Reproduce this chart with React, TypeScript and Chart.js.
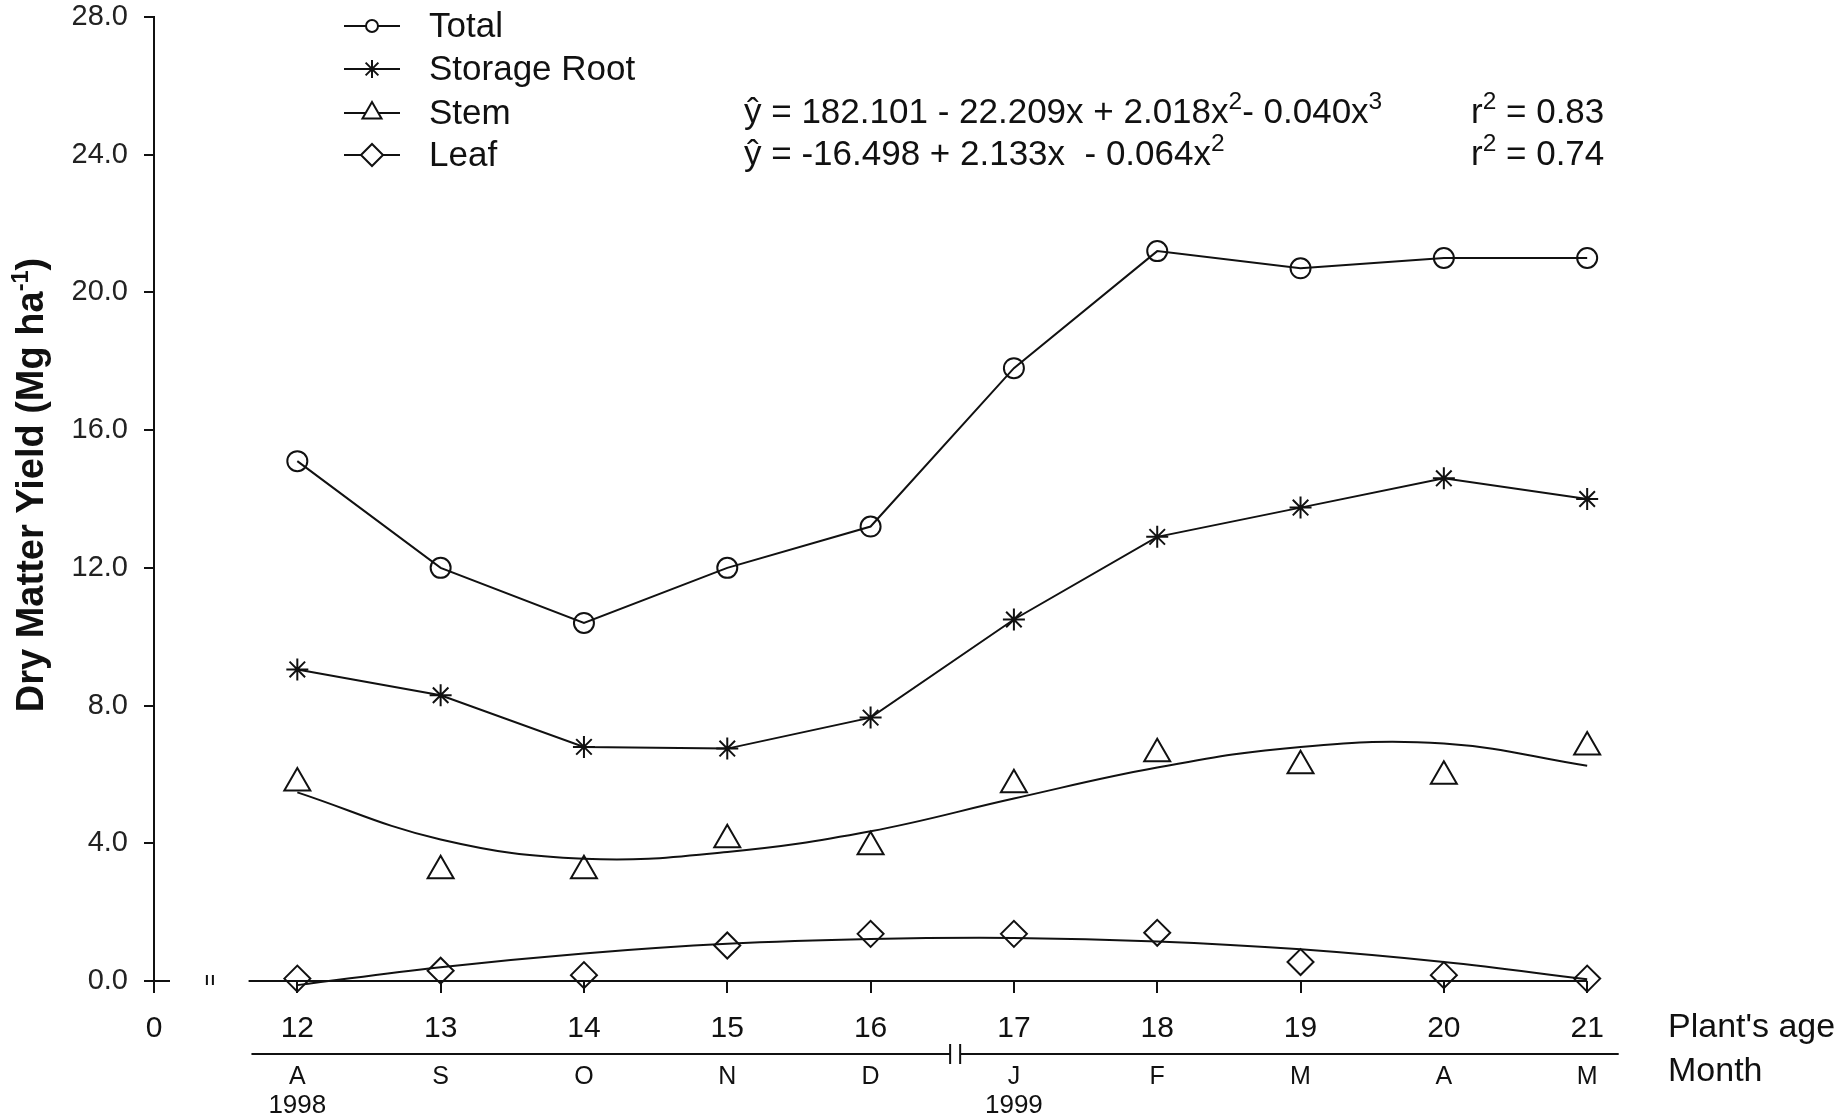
import React, { useEffect, useRef } from 'react';
import { Chart, registerables } from 'chart.js';
import * as helpers from 'chart.js/helpers';

Chart.register(...registerables);

// ---------------- data ----------------
const ages = [12, 13, 14, 15, 16, 17, 18, 19, 20, 21];
const months = ['A', 'S', 'O', 'N', 'D', 'J', 'F', 'M', 'A', 'M'];
const yearLabels = [
  { age: 12, text: '1998' },
  { age: 17, text: '1999' },
];
const total = [15.1, 12.0, 10.4, 12.0, 13.2, 17.8, 21.2, 20.7, 21.0, 21.0];
const storageRoot = [9.05, 8.3, 6.8, 6.75, 7.65, 10.5, 12.9, 13.75, 14.6, 14.0];
const stemObs = [5.75, 3.2, 3.2, 4.1, 3.9, 5.7, 6.6, 6.25, 5.95, 6.8];
const stemFit = [5.48, 4.11, 3.55, 3.75, 4.35, 5.3, 6.2, 6.8, 6.9, 6.25];
const leafObs = [0.07, 0.3, 0.17, 1.03, 1.37, 1.37, 1.4, 0.55, 0.17, 0.07];
const leafFit = [-0.12, 0.4, 0.8, 1.08, 1.22, 1.25, 1.15, 0.92, 0.55, 0.05];
const yTickValues = [0, 4, 8, 12, 16, 20, 24, 28];
const xTickValues = [11, 12, 13, 14, 15, 16, 17, 18, 19, 20, 21];
const xOriginLabel = '0';
const legendItems = [
  { label: 'Total', style: 'circle', r: 6 },
  { label: 'Storage Root', style: 'star', r: 9 },
  { label: 'Stem', style: 'triangle', r: 11 },
  { label: 'Leaf', style: 'rectRot', r: 11 },
];

const FONT = '"Liberation Sans", Arial, sans-serif';
const INK = '#111';

type Part = { t: string; sup?: boolean };

function drawRich(
  ctx: CanvasRenderingContext2D,
  parts: Part[],
  x: number,
  y: number,
  size: number,
  bold = false,
  align: 'left' | 'center' | 'right' = 'left',
  supScale = 0.62
) {
  const font = (s: number) => `${bold ? 'bold ' : ''}${s}px ${FONT}`;
  let w = 0;
  for (const p of parts) {
    ctx.font = font(p.sup ? size * supScale : size);
    w += ctx.measureText(p.t).width;
  }
  let cx = align === 'center' ? x - w / 2 : align === 'right' ? x - w : x;
  ctx.textBaseline = 'middle';
  ctx.textAlign = 'left';
  for (const p of parts) {
    const s = p.sup ? size * supScale : size;
    ctx.font = font(s);
    ctx.fillText(p.t, cx, p.sup ? y - size * 0.3 : y);
    cx += ctx.measureText(p.t).width;
  }
}

function seg(ctx: CanvasRenderingContext2D, x1: number, y1: number, x2: number, y2: number) {
  ctx.beginPath();
  ctx.moveTo(x1, y1);
  ctx.lineTo(x2, y2);
  ctx.stroke();
}

const decorPlugin = {
  id: 'decor',
  afterDraw(chart: any) {
    const { ctx, chartArea, scales } = chart;
    const x = scales.x;
    const y = scales.y;
    ctx.save();
    ctx.strokeStyle = INK;
    ctx.fillStyle = INK;
    ctx.lineWidth = 2;

    const y0 = y.getPixelForValue(0);
    // broken x axis line
    seg(ctx, x.getPixelForValue(11.66), y0, x.getPixelForValue(21), y0);
    // right stub of the origin cross
    seg(ctx, chartArea.left, y0, chartArea.left + 16, y0);
    // break mark
    const bx = x.getPixelForValue(11.39);
    seg(ctx, bx - 3, y0 - 6, bx - 3, y0 + 4);
    seg(ctx, bx + 3, y0 - 6, bx + 3, y0 + 4);

    // month axis line with break
    const my = y0 + 73;
    seg(ctx, x.getPixelForValue(11.68), my, x.getPixelForValue(16.555), my);
    seg(ctx, x.getPixelForValue(16.625), my, x.getPixelForValue(21.22), my);
    seg(ctx, x.getPixelForValue(16.555), my - 10, x.getPixelForValue(16.555), my + 10);
    seg(ctx, x.getPixelForValue(16.625), my - 10, x.getPixelForValue(16.625), my + 10);

    // months
    ctx.font = `25px ${FONT}`;
    ctx.textAlign = 'center';
    ctx.textBaseline = 'middle';
    months.forEach((m, i) => {
      ctx.fillText(m, x.getPixelForValue(ages[i]), my + 23);
    });
    ctx.font = `26px ${FONT}`;
    yearLabels.forEach((yl) => {
      ctx.fillText(yl.text, x.getPixelForValue(yl.age), my + 52);
    });

    // axis side labels
    ctx.textAlign = 'left';
    ctx.font = `34px ${FONT}`;
    ctx.fillText("Plant's age", chartArea.right + 45, y0 + 47);
    ctx.fillText('Month', chartArea.right + 45, y0 + 91);

    // y title
    ctx.save();
    ctx.translate(33, 485);
    ctx.rotate(-Math.PI / 2);
    drawRich(ctx, [{ t: 'Dry Matter Yield (Mg ha' }, { t: '-1', sup: true }, { t: ')' }], 0, 0, 38, true, 'center');
    ctx.restore();

    // legend
    const ly = [26, 69, 113, 155];
    legendItems.forEach((it, i) => {
      ctx.strokeStyle = INK;
      ctx.lineWidth = 2;
      seg(ctx, 344, ly[i], 400, ly[i]);
      ctx.fillStyle = '#fff';
      helpers.drawPoint(ctx, { pointStyle: it.style, rotation: 0, radius: it.r, borderWidth: 2 }, 372, ly[i]);
      ctx.fillStyle = INK;
      ctx.font = `35px ${FONT}`;
      ctx.textAlign = 'left';
      ctx.textBaseline = 'middle';
      ctx.fillText(it.label, 429, ly[i] + 1);
    });

    // equations
    ctx.fillStyle = INK;
    drawRich(ctx, [
      { t: 'ŷ = 182.101 - 22.209x + 2.018x' }, { t: '2', sup: true },
      { t: '- 0.040x' }, { t: '3', sup: true },
    ], 744, 113, 35, false, 'left', 0.7);
    drawRich(ctx, [{ t: 'r' }, { t: '2', sup: true }, { t: ' = 0.83' }], 1471, 113, 35, false, 'left', 0.7);
    drawRich(ctx, [
      { t: 'ŷ = -16.498 + 2.133x  - 0.064x' }, { t: '2', sup: true },
    ], 744, 155, 35, false, 'left', 0.7);
    drawRich(ctx, [{ t: 'r' }, { t: '2', sup: true }, { t: ' = 0.74' }], 1471, 155, 35, false, 'left', 0.7);

    ctx.restore();
  },
};

const pts = (vals: number[]) => vals.map((v, i) => ({ x: ages[i], y: v }));

export default function App() {
  const ref = useRef<HTMLCanvasElement | null>(null);
  useEffect(() => {
    if (!ref.current) return;
    const common = {
      borderColor: INK,
      pointBorderColor: INK,
      pointBackgroundColor: 'rgba(255,255,255,0)',
      borderWidth: 2,
      pointBorderWidth: 2,
      clip: false as const,
    };
    const chart = new Chart(ref.current, {
      type: 'scatter',
      data: {
        datasets: [
          { ...common, label: 'Total', data: pts(total), showLine: true, tension: 0, pointStyle: 'circle', pointRadius: 10 },
          { ...common, label: 'Storage Root', data: pts(storageRoot), showLine: true, tension: 0, pointStyle: 'star', pointRadius: 11 },
          { ...common, label: 'Stem fit', data: pts(stemFit), showLine: true, tension: 0.4, pointRadius: 0 },
          { ...common, label: 'Stem', data: pts(stemObs), showLine: false, pointStyle: 'triangle', pointRadius: 15 },
          { ...common, label: 'Leaf fit', data: pts(leafFit), showLine: true, tension: 0.4, pointRadius: 0 },
          { ...common, label: 'Leaf', data: pts(leafObs), showLine: false, pointStyle: 'rectRot', pointRadius: 13 },
        ],
      },
      options: {
        animation: false,
        responsive: false,
        devicePixelRatio: 1,
        layout: { padding: { left: 0, top: 17, right: 222, bottom: 0 } },
        plugins: { legend: { display: false }, tooltip: { enabled: false } },
        scales: {
          x: {
            type: 'linear',
            min: 11,
            max: 21.25,
            afterFit: (s: any) => {
              s.height = 139;
              s.paddingLeft = 0;
              s.paddingRight = 0;
            },
            afterBuildTicks: (s: any) => { s.ticks = xTickValues.map((v) => ({ value: v })); },
            border: { display: false },
            grid: { display: true, drawOnChartArea: false, drawTicks: true, tickLength: 12, color: INK, lineWidth: 2 },
            ticks: {
              color: INK,
              font: { family: FONT, size: 30 },
              padding: 18,
              maxRotation: 0,
              autoSkip: false,
              callback: (v: any) => (v === 11 ? xOriginLabel : String(v)),
            },
          },
          y: {
            type: 'linear',
            min: 0,
            max: 28,
            afterFit: (s: any) => {
              s.width = 154;
              s.paddingTop = 0;
              s.paddingBottom = 0;
            },
            afterBuildTicks: (s: any) => { s.ticks = yTickValues.map((v) => ({ value: v })); },
            border: { display: true, color: INK, width: 2 },
            grid: { display: true, drawOnChartArea: false, drawTicks: true, tickLength: 10, color: INK, lineWidth: 2 },
            ticks: {
              color: '#222',
              font: { family: FONT, size: 29 },
              padding: 16,
              callback: (v: any) => Number(v).toFixed(1),
            },
          },
        },
      },
      plugins: [decorPlugin],
    } as any);
    return () => chart.destroy();
  }, []);
  return (
    <div style={{ position: 'absolute', left: 0, top: 0, width: 1845, height: 1120, background: '#fff' }}>
      <canvas ref={ref} width={1845} height={1120} style={{ display: 'block' }} />
    </div>
  );
}
